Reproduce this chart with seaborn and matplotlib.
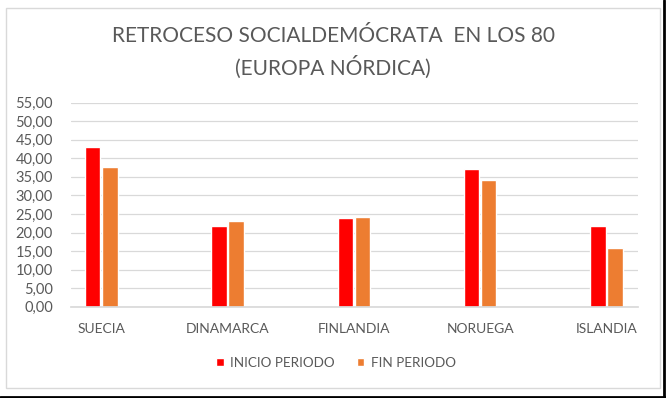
import pandas as pd
import seaborn as sns
import matplotlib.pyplot as plt
from matplotlib.lines import Line2D
from matplotlib.patches import Rectangle
from matplotlib.ticker import FuncFormatter

paises = ["SUECIA", "DINAMARCA", "FINLANDIA", "NORUEGA", "ISLANDIA"]
inicio = [43.1, 21.8, 23.9, 37.2, 21.8]
fin = [37.6, 23.2, 24.2, 34.2, 15.9]
series = ["INICIO PERIODO", "FIN PERIODO"]

df = pd.DataFrame({
    "pais": paises * 2,
    "valor": inicio + fin,
    "serie": [series[0]] * len(paises) + [series[1]] * len(paises),
})

sns.set_theme(style="white")
plt.rcParams["font.family"] = ["Lato", "DejaVu Sans"]
gris = "#595959"

fig = plt.figure(figsize=(6.66, 3.98), dpi=100)
ax = fig.add_axes([71 / 666, 1 - 306.7 / 398, (638 - 71) / 666, (306.7 - 102.7) / 398])

sns.barplot(data=df, x="pais", y="valor", hue="serie", palette=["#FF0000", "#ED7D31"],
            width=0.27, gap=0.1, saturation=1, ax=ax, legend=True)

ax.set_xlim(-0.24, 4.25)
ax.set_ylim(0, 55)
ax.set_yticks(range(0, 56, 5))
ax.yaxis.set_major_formatter(FuncFormatter(lambda v, p: f"{v:.2f}".replace(".", ",")))
ax.grid(axis="y", color="#D9D9D9", lw=0.9)
ax.set_axisbelow(True)
for s in ["top", "right", "left"]:
    ax.spines[s].set_visible(False)
ax.spines["bottom"].set_color("#D9D9D9")
ax.tick_params(axis="both", length=0, colors=gris)
ax.tick_params(axis="x", pad=12, labelsize=10)
ax.tick_params(axis="y", pad=13, labelsize=10.5)
ax.set_xlabel("")
ax.set_ylabel("")

leg = ax.legend(loc="center", bbox_to_anchor=(336 / 666, 1 - 363 / 398), bbox_transform=fig.transFigure,
                ncol=2, frameon=False, fontsize=9.7, handlelength=0.55, handleheight=0.55,
                handletextpad=0.5, columnspacing=1.6)
for t in leg.get_texts():
    t.set_color(gris)

fig.text(0.5, 1 - 36 / 398, "RETROCESO SOCIALDEMÓCRATA  EN LOS 80", ha="center", va="center",
         fontsize=15, color=gris)
fig.text(0.5, 1 - 67 / 398, "(EUROPA NÓRDICA)", ha="center", va="center", fontsize=15, color=gris)

# marco gris del gráfico y borde negro de la captura (abajo y derecha)
fig.patches.append(Rectangle((6 / 666, 1 - 388 / 398), 654 / 666, 380 / 398, transform=fig.transFigure,
                             fill=False, edgecolor="#D9D9D9", lw=1))
fig.lines.append(Line2D([0, 1], [0.003, 0.003], transform=fig.transFigure, color="black", lw=2))
fig.lines.append(Line2D([0.997, 0.997], [0, 1], transform=fig.transFigure, color="black", lw=2))

fig.savefig("out.png", dpi=100)
